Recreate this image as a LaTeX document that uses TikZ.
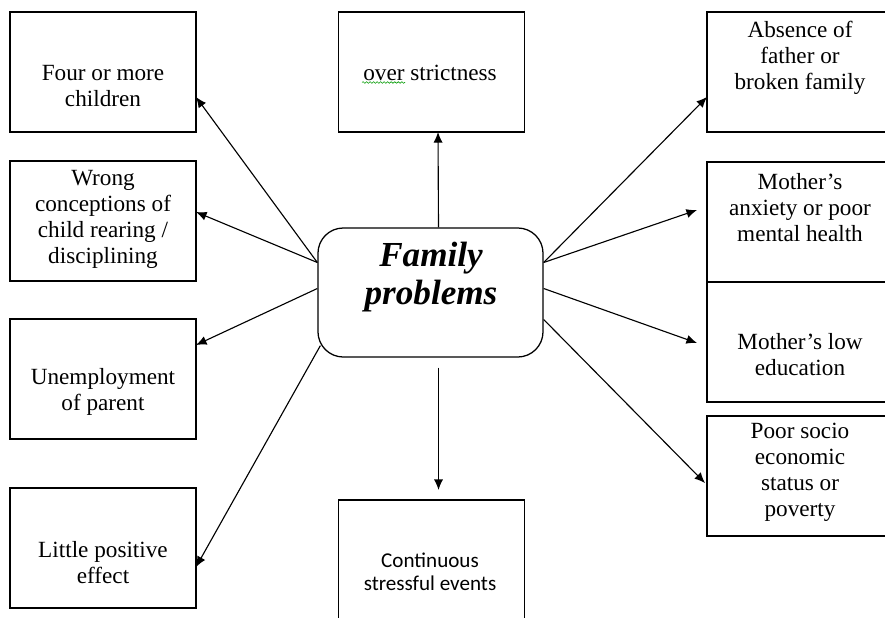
\documentclass[tikz,border=0pt]{standalone}
\usepackage{fontspec}
\setmainfont{Liberation Serif}
\newfontfamily\boxsans{Carlito}
\usetikzlibrary{arrows.meta, positioning, calc, decorations.pathmorphing}

\tikzset{
  causebox/.style={draw, line width=0.9pt, minimum width=4.65cm, minimum height=3cm, inner sep=0pt, outer sep=0pt},
  causetxt/.style={align=center, inner sep=0pt, font=\fontsize{16.5}{18.5}\selectfont},
  causearr/.style={-{Latex[length=7.5pt, width=6.5pt]}, line width=0.8pt},
}

\begin{document}
\begin{tikzpicture}[x=0.025cm, y=-0.025cm]
  \clip (0,0) rectangle (885,617);

  % Central node
  \node[draw, line width=0.9pt, rounded corners=18pt, minimum width=5.625cm, minimum height=3.225cm, inner sep=0pt] (fam) at (430.5, 292.5) {};
  \node[align=center, inner sep=0pt, font=\fontsize{25}{27}\selectfont\bfseries\itshape] (famtxt) at (431, 277) {Family\\problems};

  % Left column
  \node[causebox] (bl1) at (103, 72) {};
  \node[causetxt] (tl1) at (103, 86) {Four or more\\children};
  \node[causebox] (bl2) at (103, 221) {};
  \node[causetxt] (tl2) at (103, 219.5) {Wrong\\conceptions of\\child rearing /\\disciplining};
  \node[causebox] (bl3) at (103, 379) {};
  \node[causetxt] (tl3) at (103, 392) {Unemployment\\of parent};
  \node[causebox] (bl4) at (103, 548) {};
  \node[causetxt] (tl4) at (103, 562.5) {Little positive\\effect};

  % Middle column
  \node[causebox] (btop) at (431.5, 72) {};
  \node[causetxt] (ttop) at (430, 73) {over strictness};
  \draw[green!60!black, line width=0.4pt, decorate, decoration={snake, amplitude=0.6pt, segment length=2.5pt}] (362, 82.5) -- (405, 82.5);
  \node[causebox, minimum height=3.5cm] (bbot) at (431.5, 570) {};
  \node[align=center, inner sep=0pt, font=\boxsans\fontsize{15}{16.5}\selectfont] (tbot) at (430, 571.5) {Continuous\\stressful events};

  % Right column
  \node[causebox] (br1) at (800, 72) {};
  \node[causetxt] (tr1) at (800, 57.5) {Absence of\\father or\\broken family};
  \node[causebox] (br2) at (800, 222) {};
  \node[causetxt] (tr2) at (800, 207.5) {Mother’s\\anxiety or poor\\mental health};
  \node[causebox] (br3) at (800, 342) {};
  \node[causetxt] (tr3) at (800, 355) {Mother’s low\\education};
  \node[causebox] (br4) at (800, 476) {};
  \node[causetxt] (tr4) at (800, 472) {Poor socio\\economic\\status or\\poverty};

  % Connectors
  \draw[causearr] ($(fam.west)+(0,-30)$) -- ($(bl1.east)+(0,25)$);
  \draw[causearr] ($(fam.west)+(0,-30)$) -- ($(bl2.east)+(0,-9)$);
  \draw[causearr] ($(fam.west)+(0,-4)$) -- ($(bl3.east)+(0,-34)$);
  \draw[causearr] ($(fam.south west)+(3,-12)$) -- ($(bl4.east)+(0,19)$);
  \draw[causearr] ($(fam.north)+(8,0)$) -- ($(btop.south)+(6.5,0)$);
  \draw[causearr] ($(fam.south)+(8,10)$) -- ($(bbot.north)+(7,-10)$);
  \draw[causearr] ($(fam.east)+(0,-30)$) -- ($(br1.west)+(0,25)$);
  \draw[causearr] ($(fam.east)+(0,-30)$) -- ($(br2.west)+(-10,-12)$);
  \draw[causearr] ($(fam.east)+(0,-4)$) -- ($(br3.west)+(-10,1)$);
  \draw[causearr] ($(fam.east)+(0,27)$) -- ($(br4.west)+(-2,7)$);
\end{tikzpicture}
\end{document}
